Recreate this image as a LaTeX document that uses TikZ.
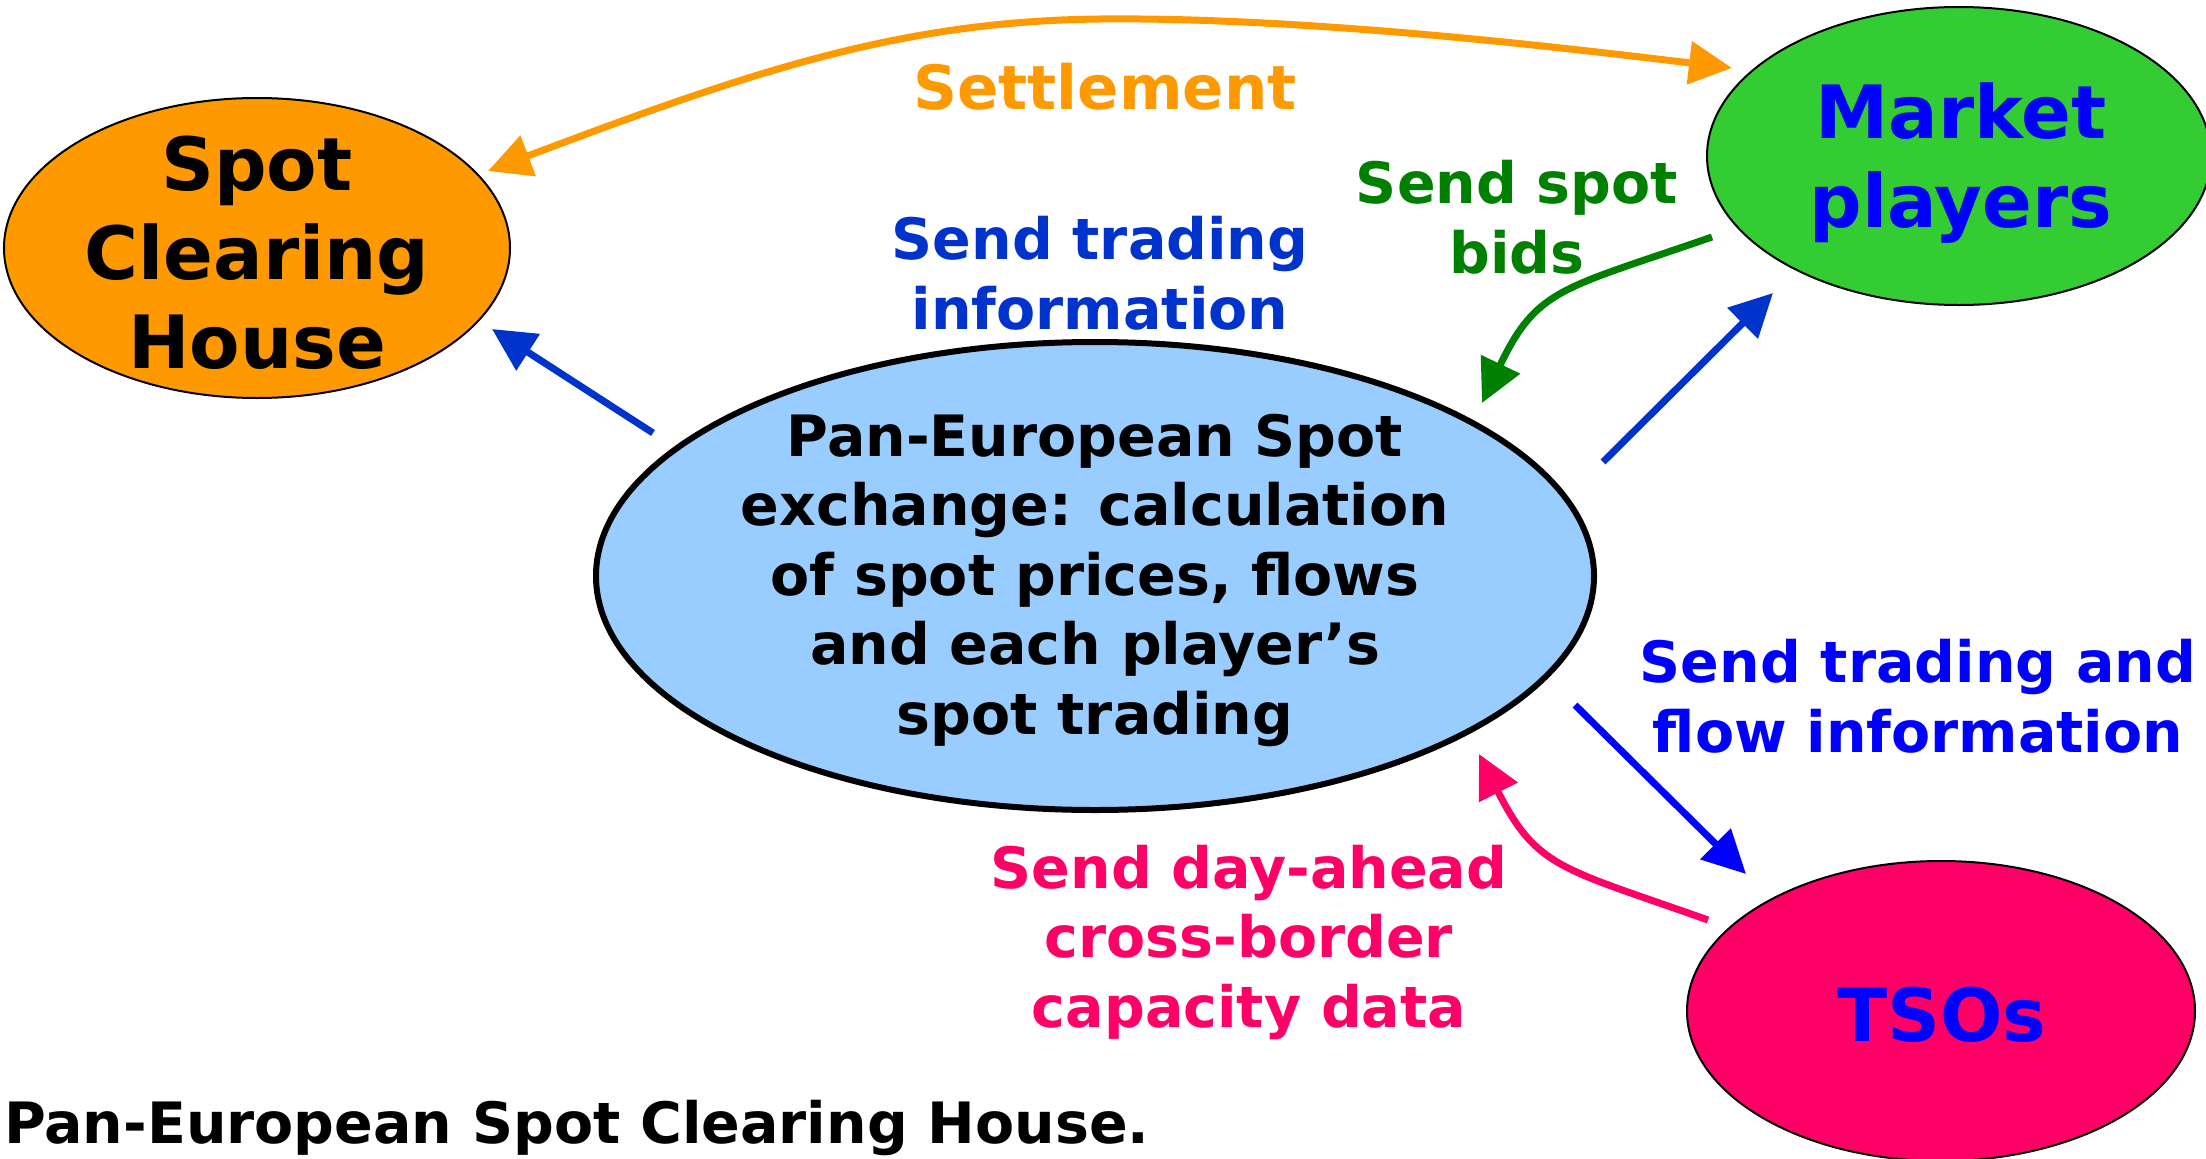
\documentclass[tikz,border=0pt]{standalone}
\usepackage{fontspec}
\setmainfont{DejaVu Sans}
\usetikzlibrary{arrows.meta,shapes.geometric}
\definecolor{schorange}{HTML}{FF9900}
\definecolor{mpgreen}{HTML}{33CC33}
\definecolor{pxblue}{HTML}{99CCFF}
\definecolor{tsopink}{HTML}{FF0066}
\definecolor{darkblue}{HTML}{0033CC}
\definecolor{pureblue}{HTML}{0000FF}
\definecolor{bidgreen}{HTML}{008000}
\begin{document}
\begin{tikzpicture}[x=1pt,y=-1pt,
  oval/.style={ellipse, draw=black, line width=2pt, inner sep=0pt},
  bigfont/.style={font=\fontsize{73.5}{89}\selectfont\bfseries, align=center, inner sep=0pt},
  midfont/.style={font=\fontsize{57}{69.5}\selectfont\bfseries, align=center, inner sep=0pt},
  tip/.style={-{Triangle[length=43pt,width=42pt]}},
  flow/.style={line width=7pt, tip},
]
\useasboundingbox (0,0) rectangle (2206,1159);
% ovals
\node[oval, fill=schorange, minimum width=506pt, minimum height=300pt] (sch) at (257,248) {};
\node[oval, fill=mpgreen, minimum width=504pt, minimum height=298pt] (mp) at (1959,156) {};
\node[oval, fill=pxblue, line width=6pt, minimum width=998pt, minimum height=468pt] (px) at (1095,576) {};
\node[oval, fill=tsopink, minimum width=508pt, minimum height=300pt] (tso) at (1941,1011) {};
% oval texts
\node[bigfont] (scht) at (257,253) {Spot\\Clearing\\House};
\node[bigfont, text=pureblue] (mpt) at (1961,163) {Market\\players};
\node[bigfont, text=pureblue] (tsot) at (1942,1015) {TSOs};
\node[midfont] (pxt) at (1095,580) {Pan-European Spot\\exchange: calculation\\of spot prices, flows\\and each player’s\\spot trading};
% labels
\node[midfont, text=schorange, font=\fontsize{61}{74}\selectfont\bfseries] (lset) at (1105,87) {Settlement};
\node[midfont, text=darkblue] (ltr) at (1100,273) {Send trading\\information};
\node[midfont, text=bidgreen] (lbid) at (1517,217) {Send spot\\bids};
\node[midfont, text=pureblue] (lflow) at (1918,696) {Send trading and\\flow information};
\node[midfont, text=tsopink] (lcap) at (1249,942) {Send day-ahead\\cross-border\\capacity data};
\node[midfont, anchor=west] (cap) at (4,1128) {Pan-European Spot Clearing House.};
% connector end points
\coordinate (s1) at (488,171);
\coordinate (s2) at (1732,68);
\coordinate (b1s) at (653,433);
\coordinate (b1e) at (492,329);
\coordinate (b2s) at (1603,462);
\coordinate (b2e) at (1773,293);
\coordinate (b3s) at (1575,705);
\coordinate (b3e) at (1746,874);
\coordinate (g1) at (1712,237);
\coordinate (g2) at (1482,403);
\coordinate (p1) at (1708,920);
\coordinate (p2) at (1479,754);
% connectors
\draw[line width=7pt, schorange, {Triangle[length=43pt,width=42pt]}-{Triangle[length=43pt,width=42pt]}]
  (s1) .. controls (750,72) and (900,21) .. (1100,19) .. controls (1300,17) and (1550,46) .. (s2);
\draw[flow, darkblue] (b1s) -- (b1e);
\draw[flow, darkblue] (b2s) -- (b2e);
\draw[flow, pureblue] (b3s) -- (b3e);
\draw[flow, bidgreen] (g1) .. controls (1562,289) and (1537,288) .. (g2);
\draw[flow, tsopink] (p1) .. controls (1562,868) and (1537,869) .. (p2);
\end{tikzpicture}
\end{document}
